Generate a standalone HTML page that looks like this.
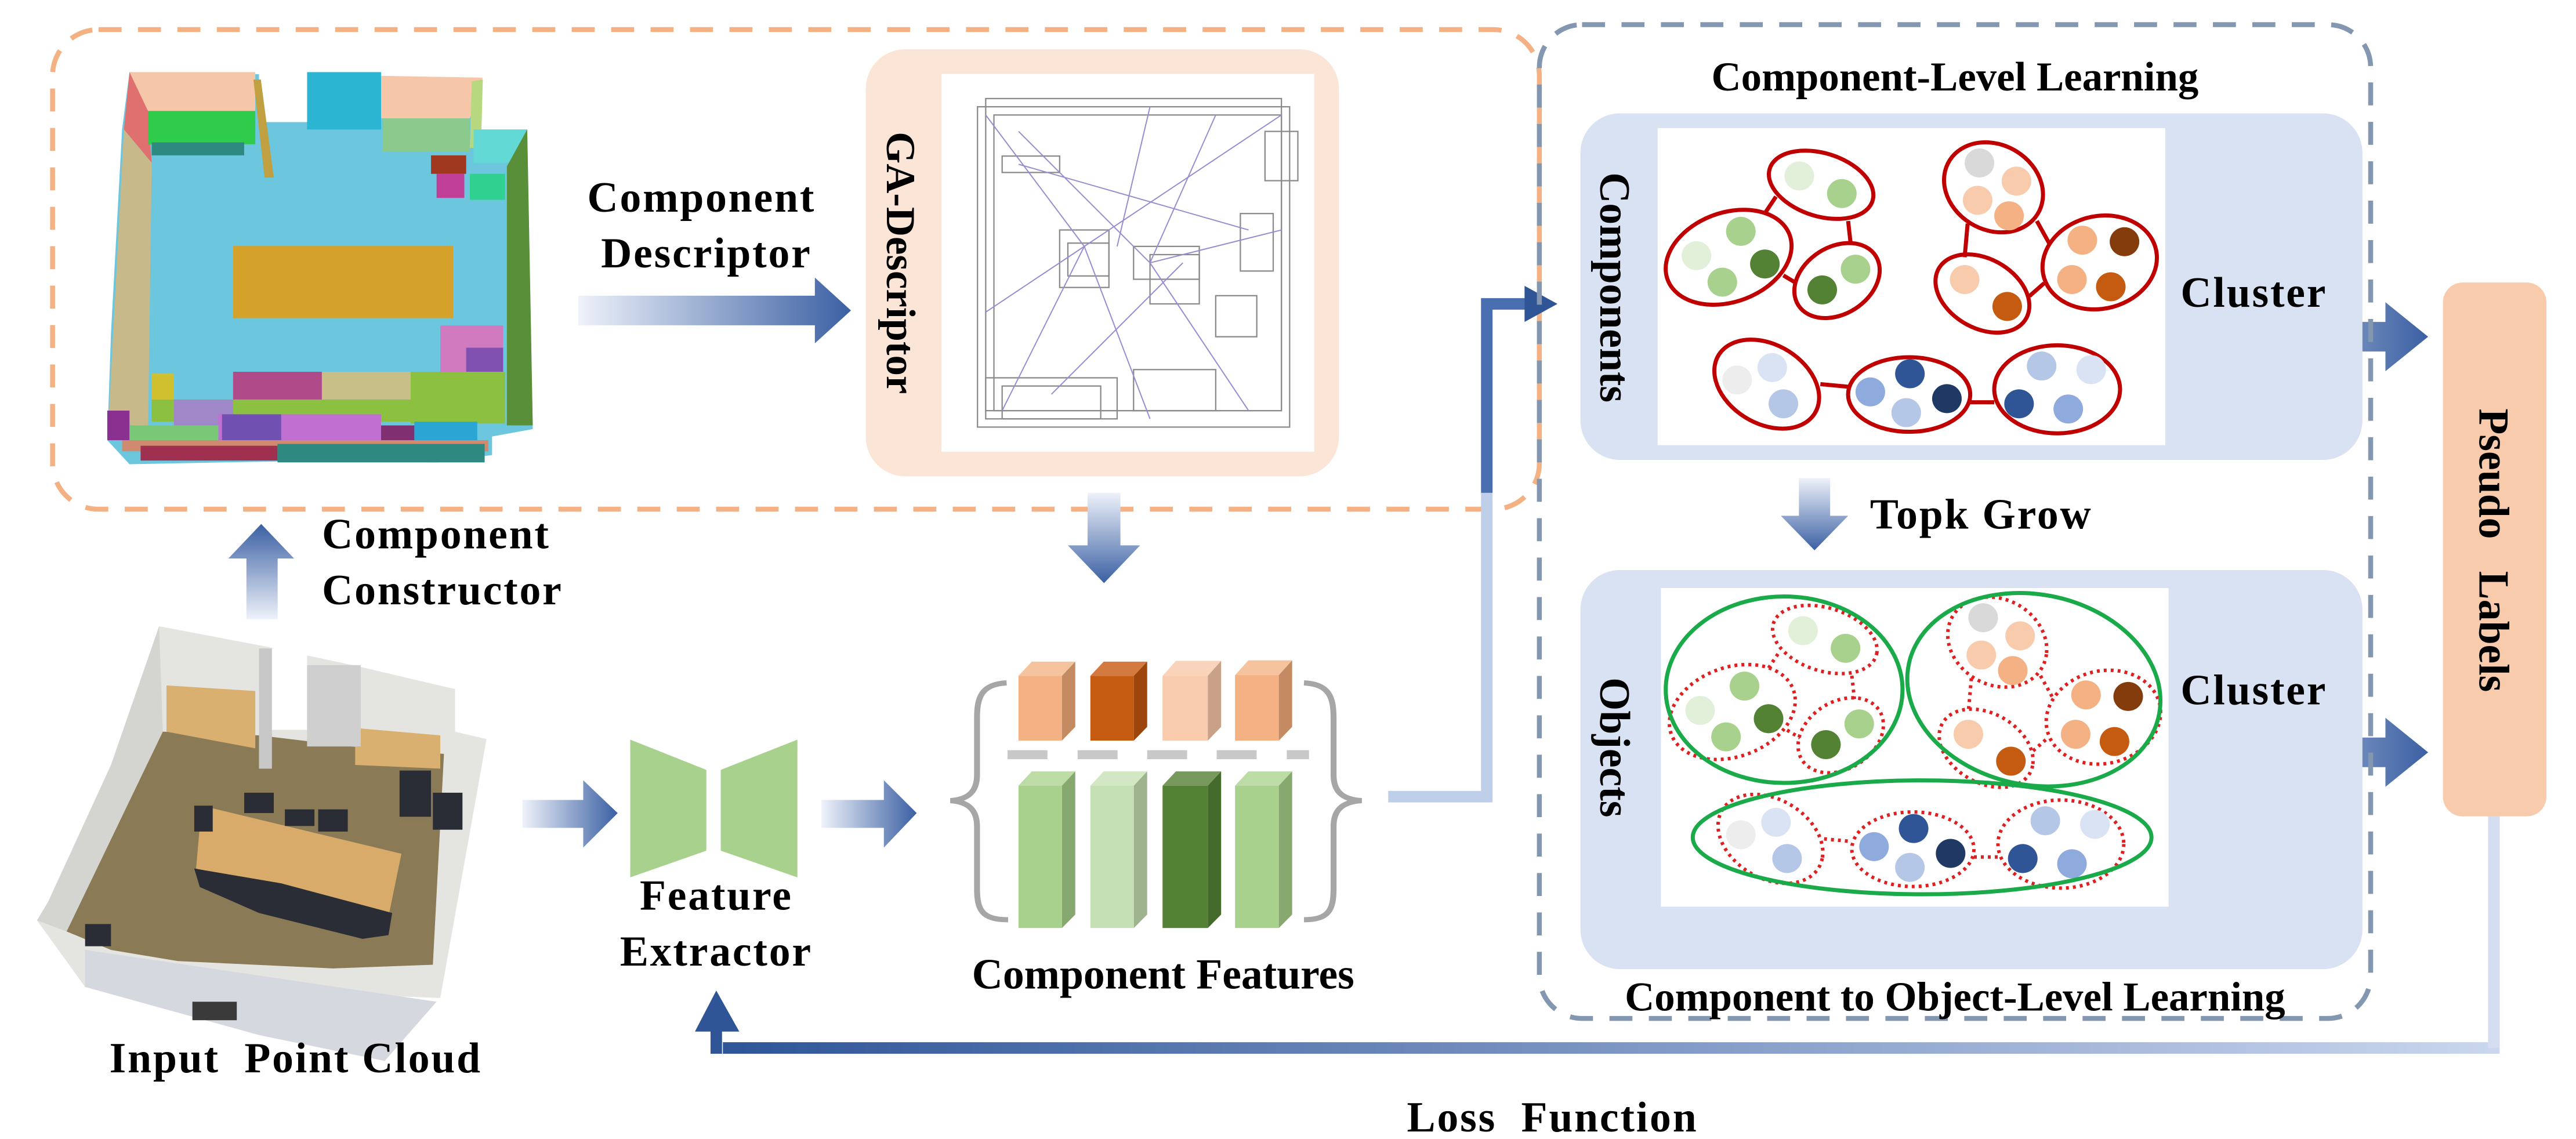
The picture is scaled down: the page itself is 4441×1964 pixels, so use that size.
<!DOCTYPE html>
<html><head><meta charset="utf-8"><style>html,body{margin:0;padding:0;background:#fff}svg{display:block}</style></head>
<body>
<svg width="4441" height="1964" viewBox="0 0 1568 693.4" preserveAspectRatio="none" xmlns="http://www.w3.org/2000/svg" font-family="'Liberation Serif', serif" font-weight="bold">
<defs>
<linearGradient id="gR" x1="0" y1="0" x2="1" y2="0"><stop offset="0" stop-color="#eef2fa"/><stop offset="1" stop-color="#3b60a3"/></linearGradient>
<linearGradient id="gU" x1="0" y1="1" x2="0" y2="0"><stop offset="0" stop-color="#eef2fa"/><stop offset="1" stop-color="#3b60a3"/></linearGradient>
<linearGradient id="gD" x1="0" y1="0" x2="0" y2="1"><stop offset="0" stop-color="#eef2fa"/><stop offset="1" stop-color="#3b60a3"/></linearGradient>
<linearGradient id="gL" x1="0" y1="0" x2="1" y2="0"><stop offset="0" stop-color="#2f5597"/><stop offset="1" stop-color="#c9d6ee"/></linearGradient>
</defs>

<rect x="32" y="18" width="905" height="292" rx="28" fill="none" stroke="#f4b183" stroke-width="3" stroke-dasharray="14,10"/>

<g transform="scale(0.2252)">
 <polygon points="350,195 1300,210 1300,350 1425,350 1440,1160 1330,1180 1330,1230 1180,1250 900,1245 600,1250 350,1255 290,1190 300,900 330,350" fill="#6cc6dd"/>
 <polygon points="350,195 690,195 690,300 400,300" fill="#f6c6a8"/>
 <polygon points="1030,205 1305,210 1270,320 1030,320" fill="#f6c6a8"/>
 <polygon points="350,195 400,300 410,440 335,350" fill="#e07070"/>
 <rect x="400" y="300" width="290" height="90" fill="#2ecc4a"/>
 <rect x="410" y="385" width="250" height="35" fill="#2e8a80"/>
 <rect x="830" y="195" width="200" height="155" fill="#2bb5d3"/>
 <rect x="700" y="195" width="130" height="135" fill="#fff"/>
 <polygon points="685,215 705,215 740,480 715,480" fill="#c0a040"/>
 <rect x="1035" y="320" width="235" height="90" fill="#8cc98c"/>
 <polygon points="1275,220 1305,215 1300,400 1270,400" fill="#b8d880"/>
 <rect x="1280" y="350" width="140" height="90" fill="#63d9d6"/>
 <polygon points="1370,450 1425,350 1440,1150 1370,1150" fill="#5a8f3a"/>
 <polygon points="335,350 410,440 400,1180 295,1110" fill="#c8b98a"/>
 <rect x="630" y="665" width="595" height="195" fill="#d4a22b"/>
 <rect x="1165" y="420" width="95" height="50" fill="#a0381f"/>
 <rect x="1180" y="470" width="75" height="65" fill="#c04098"/>
 <rect x="1270" y="470" width="95" height="70" fill="#30d090"/>
 <rect x="1190" y="880" width="170" height="130" fill="#d07ac0"/>
 <rect x="1260" y="940" width="100" height="70" fill="#8050b0"/>
 <rect x="1110" y="1005" width="255" height="140" fill="#8cc040"/>
 <rect x="410" y="1080" width="955" height="60" fill="#8cc040"/>
 <rect x="630" y="1005" width="240" height="75" fill="#b04a88"/>
 <rect x="870" y="1005" width="240" height="75" fill="#c8bf88"/>
 <rect x="470" y="1080" width="160" height="70" fill="#a088c8"/>
 <rect x="410" y="1010" width="60" height="70" fill="#d0c030"/>
 <rect x="590" y="1120" width="440" height="70" fill="#c070d0"/>
 <rect x="600" y="1120" width="160" height="70" fill="#7050b0"/>
 <rect x="1030" y="1150" width="90" height="45" fill="#803070"/>
 <rect x="1120" y="1140" width="170" height="70" fill="#2ba5d3"/>
 <rect x="290" y="1110" width="60" height="80" fill="#8a3090"/>
 <rect x="350" y="1150" width="240" height="50" fill="#78c878"/>
 <rect x="330" y="1190" width="990" height="30" fill="#d08a70"/>
 <rect x="380" y="1205" width="370" height="40" fill="#a03050"/>
 <rect x="750" y="1200" width="560" height="50" fill="#2e8a80"/>
</g>

<g transform="translate(0,353.1) scale(0.2252)">
 <polygon points="430,125 720,180 975,235 1230,295 1230,410 1315,430 1190,1130 1060,1125 1040,1300 700,1230 230,1100 100,920 130,870 300,500" fill="#e4e4e0"/>
 <polygon points="440,410 700,420 950,450 1200,470 1170,1040 900,1050 480,1030 300,1000 180,950" fill="#8b7a56"/>
 <polygon points="430,125 440,410 180,950 100,920 130,870 300,500" fill="#d4d4d0"/>
 <polygon points="230,1000 1180,1140 1040,1300 700,1230 230,1100" fill="#d6d8e0"/>
 <polygon points="450,285 690,300 690,455 450,410" fill="#d9b070"/>
 <polygon points="960,400 1190,420 1190,510 960,500" fill="#d9b070"/>
 <rect x="700" y="185" width="35" height="325" fill="#c8c8c8"/>
 <rect x="735" y="185" width="95" height="220" fill="#fff"/>
 <rect x="830" y="230" width="145" height="220" fill="#cfcfcf"/>
 <polygon points="545,610 1085,740 1050,910 530,780" fill="#d9ab6a"/>
 <g fill="#2a2d35">
  <rect x="660" y="575" width="80" height="55"/><rect x="770" y="620" width="80" height="45"/><rect x="860" y="620" width="80" height="60"/>
  <rect x="525" y="610" width="50" height="70"/><rect x="1080" y="515" width="85" height="125"/><rect x="1170" y="575" width="80" height="100"/>
  <polygon points="525,780 760,820 1060,900 1050,960 980,970 700,900 540,830"/>
  <rect x="230" y="930" width="70" height="60"/>
 </g>
 <rect x="520" y="1140" width="120" height="50" fill="#3a3a3a"/>
</g>

<g transform="scale(0.338,0.428)">
 <polygon points="1135,1052 1272,1095 1272,1210 1135,1248" fill="#a9d18e"/>
 <polygon points="1298,1095 1436,1052 1436,1248 1298,1210" fill="#a9d18e"/>
</g>

<path d="M352,180 H496 V169 L518,189 L496,209 V198 H352 Z" fill="url(#gR)"/>
<path d="M150,377 V340 H139 L159,319 L179,340 H169 V377 Z" fill="url(#gU)"/>
<path d="M318,487 H355 V475 L376,495 L355,516 V504 H318 Z" fill="url(#gR)"/>
<path d="M500,487 H538 V475 L558,495 L538,516 V504 H500 Z" fill="url(#gR)"/>
<path d="M662,300 V332 H650 L672,355 L694,332 H682 V300 Z" fill="url(#gD)"/>
<path d="M1095,291 V314 H1084 L1104.5,335 L1125,314 H1114 V291 Z" fill="url(#gD)"/>
<path d="M1325,196 H1452 V184 L1478,205 L1452,226 V214 H1325 Z" fill="url(#gR)"/>
<path d="M1325,449 H1452 V437 L1478,458 L1452,479 V467 H1325 Z" fill="url(#gR)"/>

<path d="M845,485 H905 V185 H932" fill="none" stroke="#c0cfe9" stroke-width="7"/>
<path d="M905,300 V185 H932" fill="none" stroke="#4a6fb0" stroke-width="7"/>
<polygon points="928,174 948,185 928,196" fill="#2f5597"/>

<rect x="527" y="30" width="288" height="260" rx="24" fill="#fbe5d6"/>
<rect x="573" y="45" width="227" height="230" fill="#fff"/>
<g stroke="#8a8a8a" stroke-width="0.8" fill="none">
 <rect x="595" y="65" width="190" height="195"/><rect x="600" y="60" width="180" height="190"/>
 <rect x="645" y="140" width="30" height="35"/><rect x="690" y="150" width="40" height="20"/>
 <rect x="755" y="130" width="20" height="35"/><rect x="610" y="95" width="35" height="10"/>
 <rect x="600" y="230" width="80" height="25"/><rect x="690" y="225" width="50" height="25"/>
 <rect x="770" y="80" width="20" height="30"/><rect x="740" y="180" width="25" height="25"/>
 <rect x="605" y="70" width="175" height="180"/><rect x="650" y="148" width="25" height="20"/>
 <rect x="700" y="155" width="30" height="30"/><rect x="610" y="235" width="60" height="20"/>
</g>
<g stroke="#9a8ad0" stroke-width="0.7">
 <line x1="660" y1="150" x2="600" y2="70"/><line x1="660" y1="150" x2="780" y2="70"/><line x1="660" y1="150" x2="610" y2="250"/>
 <line x1="700" y1="160" x2="760" y2="250"/><line x1="700" y1="160" x2="780" y2="140"/><line x1="680" y1="150" x2="700" y2="65"/>
 <line x1="660" y1="150" x2="600" y2="190"/><line x1="720" y1="160" x2="640" y2="240"/><line x1="620" y1="100" x2="760" y2="140"/>
 <line x1="700" y1="160" x2="620" y2="80"/><line x1="700" y1="160" x2="740" y2="70"/><line x1="660" y1="150" x2="700" y2="255"/>
</g>
<text transform="translate(548,160) rotate(90)" text-anchor="middle" dominant-baseline="central" font-size="25">GA-Descriptor</text>

<g transform="translate(565,370.8) scale(0.1801,0.1576)">
 <polygon points="305,258 350,203 497,203 452,258" fill="#f6c39f"/><rect x="305" y="258" width="147" height="250" fill="#f4b183"/><polygon points="452,258 497,203 497,455 452,508" fill="#c48b62"/>
 <polygon points="548,258 593,203 740,203 695,258" fill="#d27a40"/><rect x="548" y="258" width="147" height="250" fill="#c55a11"/><polygon points="695,258 740,203 740,455 695,508" fill="#9c450c"/>
 <polygon points="792,258 837,200 990,200 945,258" fill="#fad4ba"/><rect x="792" y="258" width="153" height="250" fill="#f8cbad"/><polygon points="945,258 990,200 990,455 945,508" fill="#c9a189"/>
 <polygon points="1037,255 1082,198 1230,198 1185,255" fill="#f6c39f"/><rect x="1037" y="255" width="148" height="253" fill="#f4b183"/><polygon points="1185,255 1230,198 1230,455 1185,508" fill="#c48b62"/>
 <g fill="#c8c8c8"><rect x="268" y="545" width="135" height="35"/><rect x="505" y="545" width="135" height="35"/><rect x="740" y="545" width="135" height="35"/><rect x="975" y="545" width="135" height="35"/><rect x="1212" y="545" width="75" height="35"/></g>
 <polygon points="305,682 350,627 497,627 452,682" fill="#bcdba5"/><rect x="305" y="682" width="147" height="550" fill="#a9d18e"/><polygon points="452,682 497,627 497,1180 452,1232" fill="#87a86f"/>
 <polygon points="548,682 593,627 740,627 695,682" fill="#d2e7c4"/><rect x="548" y="682" width="147" height="550" fill="#c5e0b4"/><polygon points="695,682 740,627 740,1180 695,1232" fill="#9db48f"/>
 <polygon points="792,682 837,627 990,627 945,682" fill="#77995d"/><rect x="792" y="682" width="153" height="550" fill="#548235"/><polygon points="945,682 990,627 990,1180 945,1232" fill="#446a2b"/>
 <polygon points="1037,682 1082,627 1230,627 1185,682" fill="#bcdba5"/><rect x="1037" y="682" width="148" height="550" fill="#a9d18e"/><polygon points="1185,682 1230,627 1230,1180 1185,1232" fill="#87a86f"/>
 <g fill="none" stroke="#a6a6a6" stroke-width="20">
 <path d="M265,285 C180,290 165,340 165,420 L165,640 C165,700 140,735 75,740 C140,745 165,780 165,840 L165,1080 C165,1160 180,1200 270,1200"/>
 <path d="M1270,285 C1355,290 1370,340 1370,420 L1370,640 C1370,700 1395,735 1465,740 C1395,745 1370,780 1370,840 L1370,1080 C1370,1160 1355,1200 1270,1200"/>
 </g>
</g>

<rect x="937" y="15" width="506" height="605" rx="26" fill="none" stroke="#8497b0" stroke-width="3" stroke-dasharray="14,10"/>
<rect x="962" y="69" width="476" height="211" rx="24" fill="#d9e2f3"/>
<rect x="962" y="347" width="476" height="243" rx="24" fill="#d9e2f3"/>
<rect x="1009" y="78" width="309" height="193" fill="#fff"/>
<rect x="1011" y="358" width="309" height="194" fill="#fff"/>

<g transform="translate(988.7,63.6) scale(0.2252,0.3153)">
 <g fill="none" stroke="#c00000" stroke-width="7">
  <line x1="380" y1="210" x2="410" y2="178" vector-effect="non-scaling-stroke"/><line x1="605" y1="225" x2="612" y2="270" vector-effect="non-scaling-stroke"/><line x1="430" y1="330" x2="465" y2="345" vector-effect="non-scaling-stroke"/>
  <line x1="928" y1="230" x2="920" y2="295" vector-effect="non-scaling-stroke"/><line x1="1115" y1="225" x2="1150" y2="270" vector-effect="non-scaling-stroke"/><line x1="1095" y1="370" x2="1135" y2="345" vector-effect="non-scaling-stroke"/>
  <line x1="530" y1="540" x2="605" y2="545" vector-effect="non-scaling-stroke"/><line x1="935" y1="575" x2="1000" y2="575" vector-effect="non-scaling-stroke"/>
  <ellipse cx="532" cy="155" rx="143" ry="62" transform="rotate(10 532 155)" vector-effect="non-scaling-stroke"/>
  <ellipse cx="282" cy="295" rx="172" ry="88" transform="rotate(-10 282 295)" vector-effect="non-scaling-stroke"/>
  <ellipse cx="575" cy="340" rx="118" ry="68" transform="rotate(-15 575 340)" vector-effect="non-scaling-stroke"/>
  <ellipse cx="998" cy="160" rx="135" ry="85" transform="rotate(10 998 160)" vector-effect="non-scaling-stroke"/>
  <ellipse cx="968" cy="365" rx="130" ry="70" transform="rotate(15 968 365)" vector-effect="non-scaling-stroke"/>
  <ellipse cx="1285" cy="305" rx="155" ry="90" transform="rotate(-5 1285 305)" vector-effect="non-scaling-stroke"/>
  <ellipse cx="385" cy="540" rx="145" ry="80" transform="rotate(15 385 540)" vector-effect="non-scaling-stroke"/>
  <ellipse cx="770" cy="560" rx="165" ry="72" vector-effect="non-scaling-stroke"/>
  <ellipse cx="1170" cy="550" rx="170" ry="85" vector-effect="non-scaling-stroke"/>
 </g>
 <g>
  <ellipse cx="473" cy="138" rx="40" ry="28" fill="#e2efd9"/><ellipse cx="588" cy="172" rx="40" ry="28" fill="#a9d18e"/>
  <ellipse cx="195" cy="292" rx="40" ry="28" fill="#e2efd9"/><ellipse cx="315" cy="245" rx="40" ry="28" fill="#a9d18e"/><ellipse cx="380" cy="308" rx="40" ry="28" fill="#548235"/><ellipse cx="265" cy="343" rx="40" ry="28" fill="#a9d18e"/>
  <ellipse cx="625" cy="318" rx="40" ry="28" fill="#a9d18e"/><ellipse cx="535" cy="358" rx="40" ry="28" fill="#548235"/>
  <ellipse cx="960" cy="113" rx="40" ry="28" fill="#d9d9d9"/><ellipse cx="1060" cy="148" rx="40" ry="28" fill="#f8cbad"/><ellipse cx="955" cy="185" rx="40" ry="28" fill="#f8cbad"/><ellipse cx="1040" cy="215" rx="40" ry="28" fill="#f4b183"/>
  <ellipse cx="920" cy="338" rx="40" ry="28" fill="#f8cbad"/><ellipse cx="1035" cy="390" rx="40" ry="28" fill="#c55a11"/>
  <ellipse cx="1238" cy="262" rx="40" ry="28" fill="#f4b183"/><ellipse cx="1352" cy="265" rx="40" ry="28" fill="#843c0c"/><ellipse cx="1210" cy="338" rx="40" ry="28" fill="#f4b183"/><ellipse cx="1315" cy="352" rx="40" ry="28" fill="#c55a11"/>
  <ellipse cx="305" cy="532" rx="40" ry="28" fill="#ededed"/><ellipse cx="400" cy="508" rx="40" ry="28" fill="#dae3f3"/><ellipse cx="430" cy="578" rx="40" ry="28" fill="#b4c7e7"/>
  <ellipse cx="665" cy="555" rx="40" ry="28" fill="#8faadc"/><ellipse cx="772" cy="520" rx="40" ry="28" fill="#2f5597"/><ellipse cx="872" cy="568" rx="40" ry="28" fill="#203864"/><ellipse cx="762" cy="595" rx="40" ry="28" fill="#b4c7e7"/>
  <ellipse cx="1128" cy="505" rx="40" ry="28" fill="#b4c7e7"/><ellipse cx="1262" cy="512" rx="40" ry="28" fill="#dae3f3"/><ellipse cx="1067" cy="578" rx="40" ry="28" fill="#2f5597"/><ellipse cx="1200" cy="588" rx="40" ry="28" fill="#8faadc"/>
 </g>
 <g transform="translate(10,878)">
  <g fill="none" stroke="#e02020" stroke-width="6" stroke-dasharray="5,7">
   <line x1="380" y1="210" x2="410" y2="178" vector-effect="non-scaling-stroke"/><line x1="605" y1="225" x2="612" y2="270" vector-effect="non-scaling-stroke"/><line x1="430" y1="330" x2="465" y2="345" vector-effect="non-scaling-stroke"/>
   <line x1="928" y1="230" x2="920" y2="295" vector-effect="non-scaling-stroke"/><line x1="1115" y1="225" x2="1150" y2="270" vector-effect="non-scaling-stroke"/><line x1="1095" y1="370" x2="1135" y2="345" vector-effect="non-scaling-stroke"/>
   <line x1="530" y1="540" x2="605" y2="545" vector-effect="non-scaling-stroke"/><line x1="935" y1="575" x2="1000" y2="575" vector-effect="non-scaling-stroke"/>
   <ellipse cx="532" cy="155" rx="143" ry="62" transform="rotate(10 532 155)" vector-effect="non-scaling-stroke"/>
   <ellipse cx="282" cy="295" rx="172" ry="88" transform="rotate(-10 282 295)" vector-effect="non-scaling-stroke"/>
   <ellipse cx="575" cy="340" rx="118" ry="68" transform="rotate(-15 575 340)" vector-effect="non-scaling-stroke"/>
   <ellipse cx="998" cy="160" rx="135" ry="85" transform="rotate(10 998 160)" vector-effect="non-scaling-stroke"/>
   <ellipse cx="968" cy="365" rx="130" ry="70" transform="rotate(15 968 365)" vector-effect="non-scaling-stroke"/>
   <ellipse cx="1285" cy="305" rx="155" ry="90" transform="rotate(-5 1285 305)" vector-effect="non-scaling-stroke"/>
   <ellipse cx="385" cy="540" rx="145" ry="80" transform="rotate(15 385 540)" vector-effect="non-scaling-stroke"/>
   <ellipse cx="770" cy="560" rx="165" ry="72" vector-effect="non-scaling-stroke"/>
   <ellipse cx="1170" cy="550" rx="170" ry="85" vector-effect="non-scaling-stroke"/>
  </g>
  <ellipse cx="473" cy="138" rx="40" ry="28" fill="#e2efd9"/><ellipse cx="588" cy="172" rx="40" ry="28" fill="#a9d18e"/>
  <ellipse cx="195" cy="292" rx="40" ry="28" fill="#e2efd9"/><ellipse cx="315" cy="245" rx="40" ry="28" fill="#a9d18e"/><ellipse cx="380" cy="308" rx="40" ry="28" fill="#548235"/><ellipse cx="265" cy="343" rx="40" ry="28" fill="#a9d18e"/>
  <ellipse cx="625" cy="318" rx="40" ry="28" fill="#a9d18e"/><ellipse cx="535" cy="358" rx="40" ry="28" fill="#548235"/>
  <ellipse cx="960" cy="113" rx="40" ry="28" fill="#d9d9d9"/><ellipse cx="1060" cy="148" rx="40" ry="28" fill="#f8cbad"/><ellipse cx="955" cy="185" rx="40" ry="28" fill="#f8cbad"/><ellipse cx="1040" cy="215" rx="40" ry="28" fill="#f4b183"/>
  <ellipse cx="920" cy="338" rx="40" ry="28" fill="#f8cbad"/><ellipse cx="1035" cy="390" rx="40" ry="28" fill="#c55a11"/>
  <ellipse cx="1238" cy="262" rx="40" ry="28" fill="#f4b183"/><ellipse cx="1352" cy="265" rx="40" ry="28" fill="#843c0c"/><ellipse cx="1210" cy="338" rx="40" ry="28" fill="#f4b183"/><ellipse cx="1315" cy="352" rx="40" ry="28" fill="#c55a11"/>
  <ellipse cx="305" cy="532" rx="40" ry="28" fill="#ededed"/><ellipse cx="400" cy="508" rx="40" ry="28" fill="#dae3f3"/><ellipse cx="430" cy="578" rx="40" ry="28" fill="#b4c7e7"/>
  <ellipse cx="665" cy="555" rx="40" ry="28" fill="#8faadc"/><ellipse cx="772" cy="520" rx="40" ry="28" fill="#2f5597"/><ellipse cx="872" cy="568" rx="40" ry="28" fill="#203864"/><ellipse cx="762" cy="595" rx="40" ry="28" fill="#b4c7e7"/>
  <ellipse cx="1128" cy="505" rx="40" ry="28" fill="#b4c7e7"/><ellipse cx="1262" cy="512" rx="40" ry="28" fill="#dae3f3"/><ellipse cx="1067" cy="578" rx="40" ry="28" fill="#2f5597"/><ellipse cx="1200" cy="588" rx="40" ry="28" fill="#8faadc"/>
 </g>
 <g fill="none" stroke="#1aaa4a" stroke-width="7">
  <ellipse cx="432" cy="1130" rx="320" ry="180" vector-effect="non-scaling-stroke"/>
  <ellipse cx="1107" cy="1130" rx="343" ry="185" transform="rotate(5 1107 1130)" vector-effect="non-scaling-stroke"/>
  <ellipse cx="805" cy="1415" rx="620" ry="110" vector-effect="non-scaling-stroke"/>
 </g>
</g>

<rect x="1487" y="172" width="63" height="325" rx="12" fill="#f8cbad"/>
<text transform="translate(1518,335) rotate(90)" text-anchor="middle" dominant-baseline="central" font-size="26" xml:space="preserve">Pseudo   Labels</text>

<path d="M1518,497 V638 H440" fill="none" stroke="url(#gL)" stroke-width="7"/>
<path d="M1518,497 V638" fill="none" stroke="#d4def0" stroke-width="7"/>
<path d="M436,641.5 V625" fill="none" stroke="#2f5597" stroke-width="7"/>
<polygon points="423,628 436,603 450,628" fill="#2f5597"/>

<g font-size="26" text-anchor="middle" dominant-baseline="central" fill="#000" letter-spacing="1">
 <text x="427" y="120">Component</text>
 <text x="430" y="154">Descriptor</text>
 <text x="196" y="325" text-anchor="start">Component</text>
 <text x="196" y="359" text-anchor="start">Constructor</text>
 <text x="436" y="545">Feature</text>
 <text x="436" y="579">Extractor</text>
 <text x="180" y="644" xml:space="preserve">Input  Point Cloud</text>
 <text x="708" y="593" letter-spacing="0">Component Features</text>
 <text x="1190" y="47" letter-spacing="0" font-size="25">Component-Level Learning</text>
 <text x="1190" y="607" letter-spacing="0" font-size="25">Component to Object-Level Learning</text>
 <text x="1206" y="313">Topk Grow</text>
 <text x="1372" y="178">Cluster</text>
 <text x="1372" y="420">Cluster</text>
 <text x="945" y="680" xml:space="preserve">Loss  Function</text>
 <text transform="translate(983,175) rotate(90)" letter-spacing="0">Components</text>
 <text transform="translate(983,455) rotate(90)" letter-spacing="0">Objects</text>
</g>
</svg>
</body></html>
